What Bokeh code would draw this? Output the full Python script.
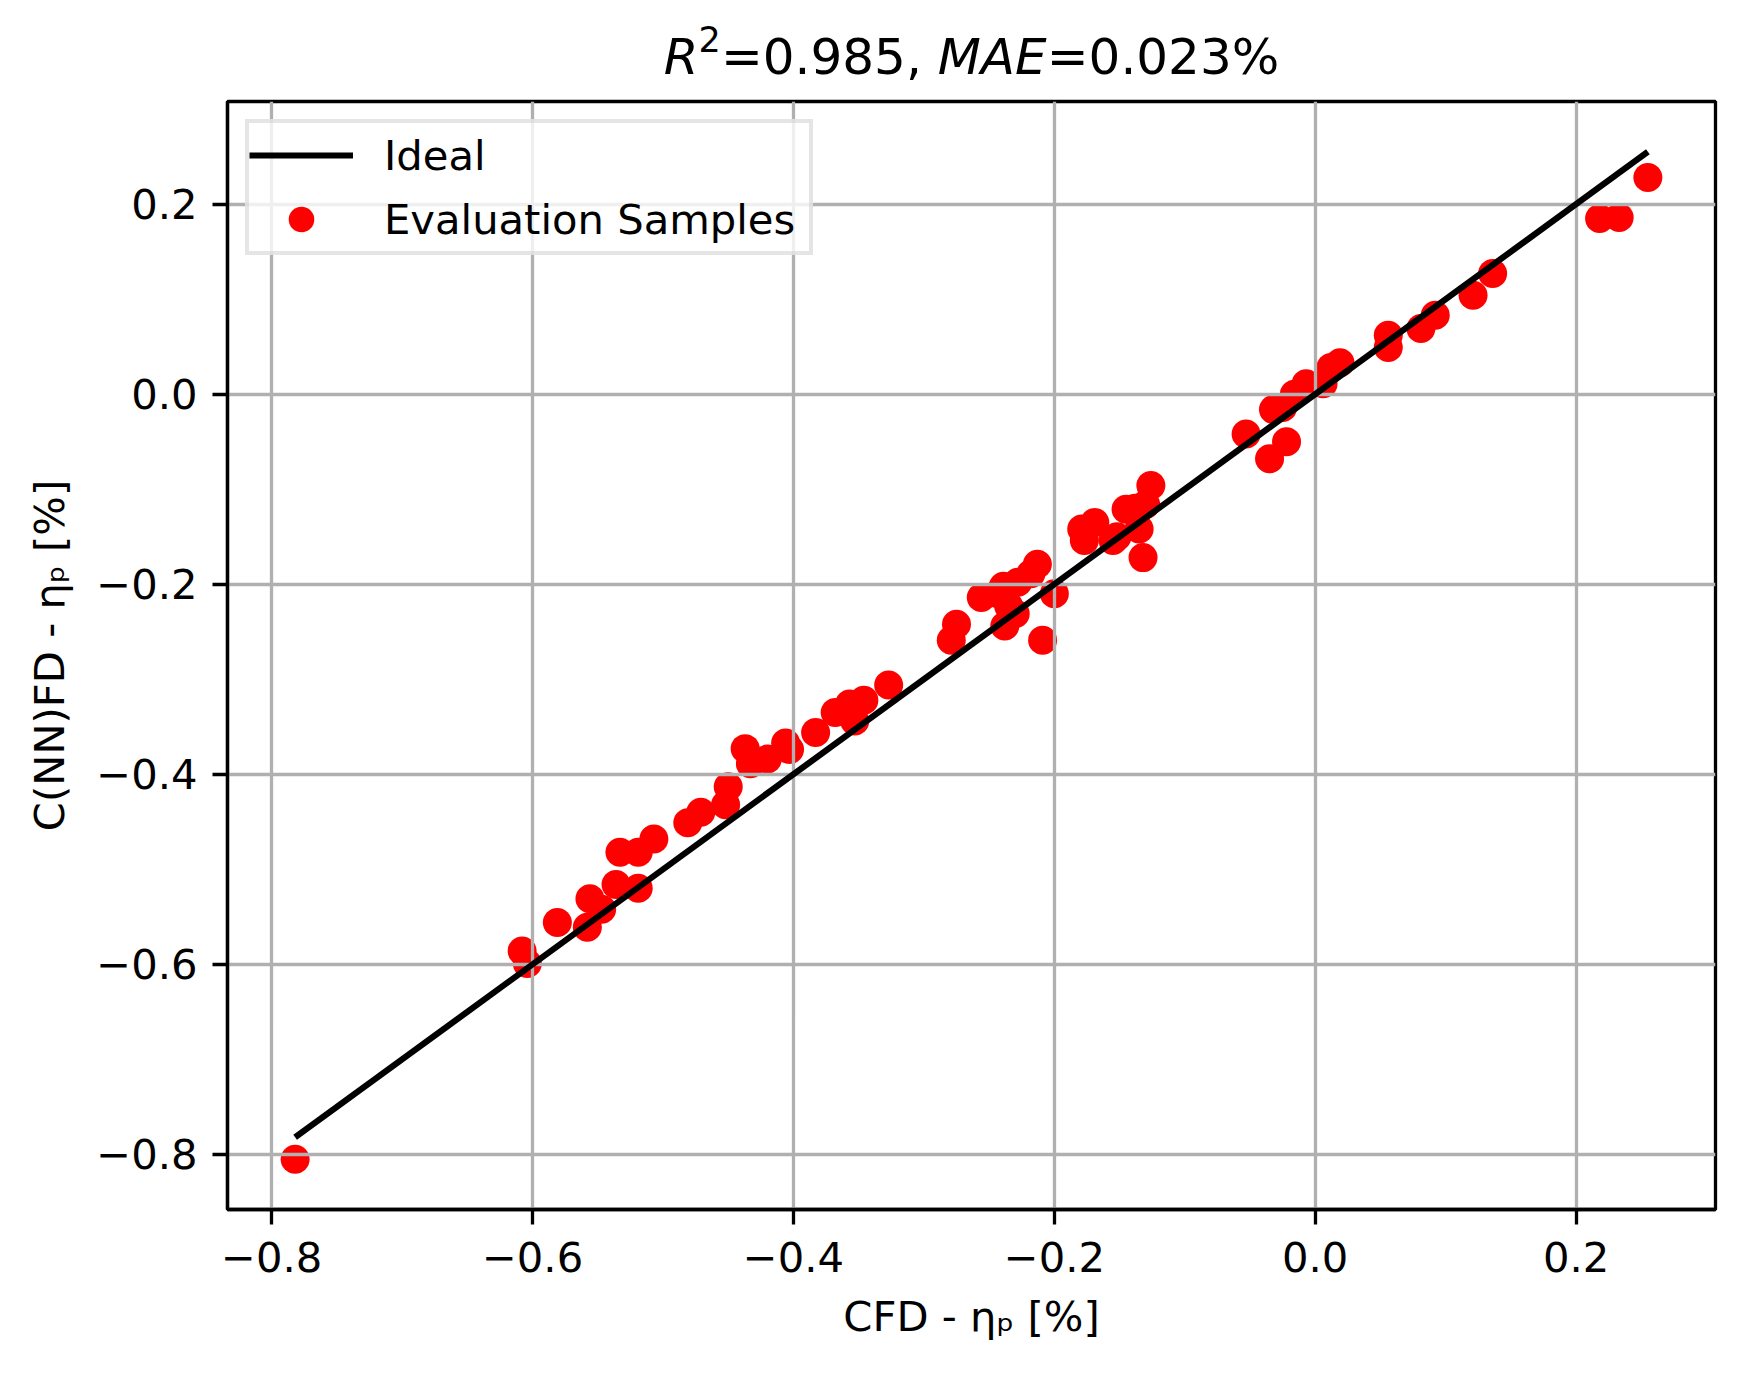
import numpy as np
from bokeh.plotting import figure
from bokeh.layouts import column
from bokeh.models import (Range1d, FixedTicker, Legend, LegendItem)
from bokeh.core.properties import value
from bokeh.embed import file_html
from bokeh.resources import INLINE

# ---- data ----
cfd = [-0.782, -0.608, -0.604, -0.581, -0.558, -0.556, -0.547, -0.536, -0.533, -0.519,
       -0.519, -0.507, -0.481, -0.471, -0.452, -0.450, -0.437, -0.433, -0.420, -0.406,
       -0.403, -0.383, -0.368, -0.357, -0.353, -0.346, -0.327, -0.279, -0.275, -0.256,
       -0.243, -0.239, -0.235, -0.238, -0.228, -0.230, -0.218, -0.213, -0.209, -0.200,
       -0.179, -0.177, -0.169, -0.155, -0.152, -0.145, -0.138, -0.135, -0.132, -0.130,
       -0.126, -0.053, -0.035, -0.032, -0.025, -0.022, -0.016, -0.007, 0.006, 0.012,
       0.019, 0.056, 0.056, 0.081, 0.092, 0.121, 0.136, 0.218, 0.233, 0.255]
nn = [-0.805, -0.586, -0.599, -0.556, -0.561, -0.531, -0.542, -0.516, -0.482, -0.482,
      -0.520, -0.468, -0.451, -0.440, -0.432, -0.413, -0.373, -0.389, -0.384, -0.367,
      -0.374, -0.356, -0.335, -0.326, -0.344, -0.322, -0.306, -0.259, -0.242, -0.214,
      -0.210, -0.202, -0.223, -0.244, -0.198, -0.231, -0.189, -0.179, -0.259, -0.210,
      -0.142, -0.154, -0.135, -0.154, -0.150, -0.121, -0.120, -0.142, -0.172, -0.116,
      -0.096, -0.042, -0.068, -0.016, -0.014, -0.050, 0.000, 0.011, 0.011, 0.028,
      0.033, 0.062, 0.049, 0.069, 0.083, 0.104, 0.127, 0.185, 0.186, 0.228]
ticks = [-0.8, -0.6, -0.4, -0.2, 0.0, 0.2]
tick_labels = ["\u22120.8", "\u22120.6", "\u22120.4", "\u22120.2", "0.0", "0.2"]
x_label = "CFD - \u03b7\u209a [%]"
y_label = "C(NN)FD - \u03b7\u209a [%]"
legend_labels = ["Ideal", "Evaluation Samples"]
# title pieces: text, style, font size (px)
title_texts = ["R", "2", "=0.985, ", "MAE", "=0.023%"]
title_styles = ["italic", "normal", "normal", "italic", "normal"]
title_sizes = [50, 35, 50, 50, 50]

ideal_x = [min(cfd), max(cfd)]
ideal_y = [min(cfd), max(cfd)]

# matplotlib-like 5% margins
def padded(vals):
    lo, hi = min(vals), max(vals)
    m = 0.05 * (hi - lo)
    return lo - m, hi + m

x0, x1 = padded(cfd + ideal_x)
y0, y1 = padded(nn + ideal_y)

W, H = 1728, 1356
TH = 95                      # height of title strip
FONT = "DejaVu Sans"
FS = "41.7px"
BL, BR, BT, BB = 227, 13, 101 - TH, 147

# ---- title strip (canvas pixel coordinates, y top-down) ----
t = figure(width=W, height=TH, output_backend="svg", toolbar_location=None,
           x_range=Range1d(BL, W - BR), y_range=Range1d(TH, 0),
           min_border_left=BL, min_border_right=BR, min_border_top=0,
           min_border_bottom=0, x_axis_type=None, y_axis_type=None)
t.outline_line_color = None
t.grid.visible = False
t.background_fill_color = "white"
t.border_fill_color = "white"

frame_cx = BL + (W - BL - BR) / 2
adv = [34.8, 22.3, 216.8, 109.0, 232.5]     # advance widths of the pieces (px)
total = sum(adv)
cur = frame_cx - total / 2
baseline = 56
for txt, sty, fs, a in zip(title_texts, title_styles, title_sizes, adv):
    by = baseline - (18 if fs < 50 else 0)
    t.text(x=[cur], y=[by], text=[txt], text_font=value(FONT),
           text_font_style=sty, text_font_size=value(f"{fs}px"),
           text_color="black", text_align="left", text_baseline="alphabetic")
    cur += a

# ---- main plot ----
p = figure(width=W, height=H - TH, output_backend="svg", toolbar_location=None,
           x_range=Range1d(x0, x1), y_range=Range1d(y0, y1),
           min_border_left=BL, min_border_right=BR, min_border_top=BT,
           min_border_bottom=BB)
p.background_fill_color = "white"
p.border_fill_color = "white"
p.outline_line_color = "black"
p.outline_line_width = 3.3

for ax in (p.xaxis[0], p.yaxis[0]):
    ax.ticker = FixedTicker(ticks=ticks)
    ax.major_label_overrides = {tk: l for tk, l in zip(ticks, tick_labels)}
    ax.major_label_text_font = FONT
    ax.major_label_text_font_size = FS
    ax.major_label_text_color = "black"
    ax.axis_label_text_font = FONT
    ax.axis_label_text_font_size = FS
    ax.axis_label_text_font_style = "normal"
    ax.axis_label_text_color = "black"
    ax.axis_line_color = "black"
    ax.axis_line_width = 3.3
    ax.major_tick_out = 15
    ax.major_tick_in = 0
    ax.major_tick_line_width = 3.3
    ax.major_tick_line_color = "black"
    ax.minor_tick_line_color = None

p.xaxis[0].axis_label = x_label
p.yaxis[0].axis_label = y_label
p.xaxis[0].major_label_standoff = 17
p.yaxis[0].major_label_standoff = 15
p.xaxis[0].axis_label_standoff = 17
p.yaxis[0].axis_label_standoff = 19

for g in (p.xgrid[0], p.ygrid[0]):
    g.ticker = FixedTicker(ticks=ticks)
    g.grid_line_color = "#b0b0b0"
    g.grid_line_width = 3.3

ideal = p.line(ideal_x, ideal_y, line_color="black", line_width=6.2)
pts = p.scatter(cfd, nn, size=29, fill_color="red", line_color="red", line_width=0,
                level="image")

legend = Legend(items=[LegendItem(label=legend_labels[0], renderers=[ideal]),
                       LegendItem(label=legend_labels[1], renderers=[pts])],
                location="top_left", margin=18, padding=0, spacing=0,
                label_height=64, glyph_height=64, glyph_width=104, label_standoff=31,
                label_width=425,
                label_text_font=FONT, label_text_font_size=FS,
                label_text_color="black", label_text_baseline="middle",
                border_line_color="#cccccc", border_line_width=4,
                background_fill_color="white", background_fill_alpha=0.8)
p.add_layout(legend, "center")

open("out.html", "w").write(file_html(column(t, p, spacing=0), INLINE))
